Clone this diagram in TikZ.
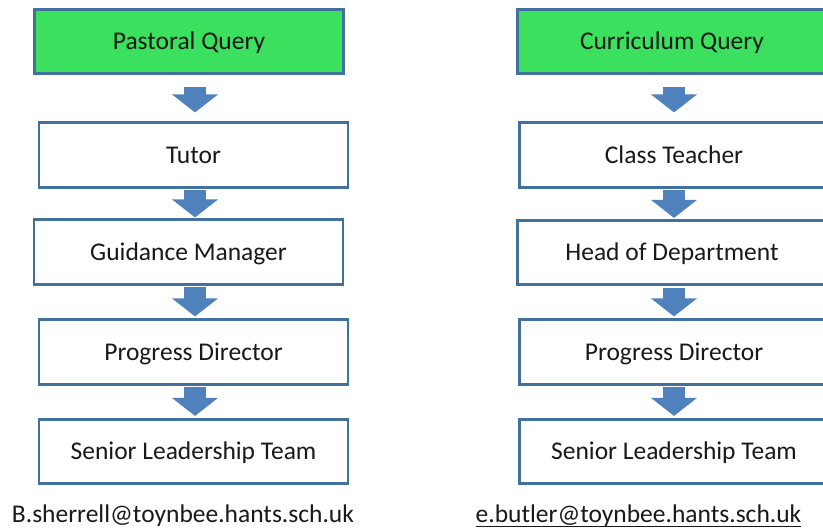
\documentclass[tikz,border=0pt]{standalone}
\usepackage{fontspec}
\setmainfont{Carlito}
\usetikzlibrary{arrows.meta,calc}
\definecolor{bordc}{HTML}{41719C}
\definecolor{greenq}{HTML}{3AE05E}
\definecolor{arrc}{HTML}{4F81BD}
\newcommand\myul[1]{\setbox0\hbox{#1}\rlap{\rule[-4pt]{\wd0}{1.3pt}}\box0}
\begin{document}
\begin{tikzpicture}[x=1pt,y=-1pt,
  box/.style={draw=bordc, line width=2.6pt, fill=white, minimum width=309pt, minimum height=64.5pt, inner sep=0pt, text height=17pt, text depth=0pt, font=\fontsize{25.5}{30}\selectfont, text=black!90},
  qbox/.style={box, fill=greenq},
  barrow/.style={draw=arrc, line width=22pt, -{Triangle[width=45pt,length=18pt]}},
  mail/.style={anchor=base, font=\fontsize{25.5}{30}\selectfont, text=black!90}]
\useasboundingbox (0,0) rectangle (823,529);
% left column
\node[qbox] (P)  at (189,41.5)   {Pastoral Query};
\node[box]  (T)  at (193.5,155)  {Tutor};
\node[box]  (G)  at (188.5,252)  {Guidance Manager};
\node[box]  (PD) at (193.5,352)  {Progress Director};
\node[box]  (S)  at (193.5,451.5){Senior Leadership Team};
% right column
\node[qbox] (C)   at (672,41.5)   {Curriculum Query};
\node[box]  (CT)  at (674,155)    {Class Teacher};
\node[box]  (H)   at (672,252.5)  {Head of Department};
\node[box]  (PD2) at (674,352)    {Progress Director};
\node[box]  (S2)  at (674,451.5)  {Senior Leadership Team};
% arrow axes
\coordinate (aL) at (195,0);
\coordinate (aR) at (674,0);
% left arrows
\draw[barrow] ($(aL |- P.south)+(0,12)$)  -- ($(aL |- T.north)+(0,-9)$);
\draw[barrow] ($(aL |- T.south)+(0,1.5)$) -- ($(aL |- G.north)+(0,-1)$);
\draw[barrow] ($(aL |- G.south)+(0,1.5)$) -- ($(aL |- PD.north)+(0,-2)$);
\draw[barrow] ($(aL |- PD.south)+(0,1.5)$) -- ($(aL |- S.north)+(0,-2)$);
% right arrows
\draw[barrow] ($(aR |- C.south)+(0,12)$)  -- ($(aR |- CT.north)+(0,-9)$);
\draw[barrow] ($(aR |- CT.south)+(0,1.5)$) -- ($(aR |- H.north)+(0,-1)$);
\draw[barrow] ($(aR |- H.south)+(0,1.5)$) -- ($(aR |- PD2.north)+(0,-2)$);
\draw[barrow] ($(aR |- PD2.south)+(0,1.5)$) -- ($(aR |- S2.north)+(0,-2)$);
% emails
\node[mail] (m1) at (183,523) {B.sherrell@toynbee.hants.sch.uk};
\node[mail] (m2) at (638.5,523) {\myul{e.butler@toynbee.hants.sch.uk}};
\end{tikzpicture}
\end{document}
